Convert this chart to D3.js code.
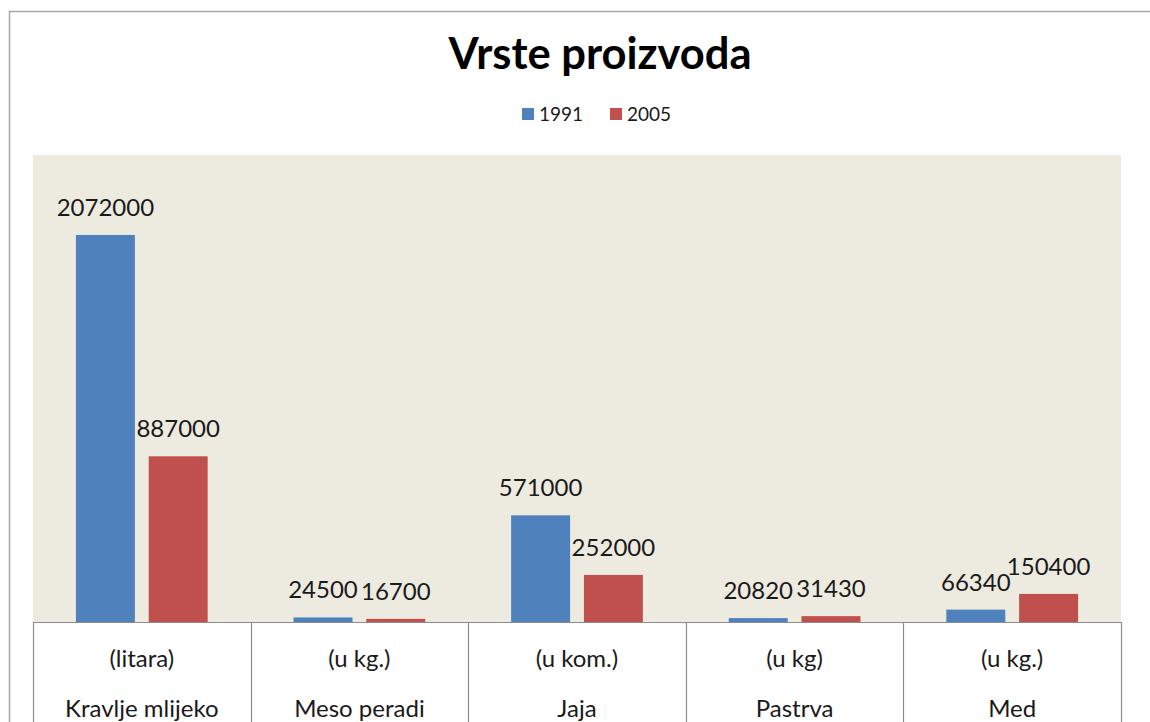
<!DOCTYPE html>
<html>
<head>
<meta charset="utf-8">
<script src="https://cdn.jsdelivr.net/npm/d3@7"></script>
<style>
  body { margin: 0; background: #fff; }
  svg { display: block; font-family: Lato, "Open Sans", sans-serif; }
</style>
</head>
<body>
<svg id="chart"></svg>
<script>
// data
var categories = ["Kravlje mlijeko", "Meso peradi", "Jaja", "Pastrva", "Med"];
var units = ["(litara)", "(u kg.)", "(u kom.)", "(u kg)", "(u kg.)"];
var seriesNames = ["1991", "2005"];
var values1991 = [2072000, 24500, 571000, 20820, 66340];
var values2005 = [887000, 16700, 252000, 31430, 150400];
var colors = ["#4F81BD", "#C0504D"];

var width = 1150, height = 722;
var plot = { left: 33, right: 1121, top: 155, bottom: 622 };

var svg = d3.select("#chart")
  .attr("width", width)
  .attr("height", height);

// outer chart frame (runs off the right/bottom edge)
svg.append("rect")
  .attr("x", 9.5).attr("y", 11.5)
  .attr("width", 1160).attr("height", 800)
  .attr("fill", "#fff")
  .attr("stroke", "#a6a6a6")
  .attr("stroke-width", 1.5);

// plot area background
svg.append("rect")
  .attr("x", plot.left).attr("y", plot.top)
  .attr("width", plot.right - plot.left)
  .attr("height", plot.bottom - plot.top)
  .attr("fill", "#EDEAE0");

var x0 = d3.scaleBand()
  .domain(categories)
  .range([plot.left, plot.right]);

var x1 = d3.scaleBand()
  .domain(seriesNames)
  .range([0, x0.bandwidth()])
  .paddingInner(0.19)
  .paddingOuter(0.59);

var y = d3.scaleLinear()
  .domain([0, 2500000])
  .range([plot.bottom, plot.top]);

var rows = categories.map(function(c, i) {
  return { cat: c, vals: [values1991[i], values2005[i]] };
});

var groups = svg.append("g").selectAll("g")
  .data(rows)
  .enter().append("g")
  .attr("transform", d => `translate(${x0(d.cat)},0)`);

groups.selectAll("rect")
  .data(d => d.vals.map((v, j) => ({ s: seriesNames[j], v: v, j: j })))
  .enter().append("rect")
  .attr("x", d => x1(d.s))
  .attr("y", d => y(d.v))
  .attr("width", x1.bandwidth())
  .attr("height", d => plot.bottom - y(d.v))
  .attr("fill", d => colors[d.j]);

groups.selectAll("text.lbl")
  .data(d => d.vals.map((v, j) => ({ s: seriesNames[j], v: v })))
  .enter().append("text")
  .attr("class", "lbl")
  .attr("x", d => x1(d.s) + x1.bandwidth() / 2)
  .attr("y", d => y(d.v) - 19)
  .attr("text-anchor", "middle")
  .attr("font-size", 24)
  .attr("fill", "#1a1a1a")
  .text(d => d.v);

// category axis drawn as a table
var axisG = svg.append("g");
axisG.append("line")
  .attr("x1", plot.left).attr("x2", plot.right)
  .attr("y1", plot.bottom + 0.5).attr("y2", plot.bottom + 0.5)
  .attr("stroke", "#8c8c8c").attr("stroke-width", 1.2);

var edges = categories.map(c => x0(c)).concat([plot.right]);
axisG.selectAll("line.cell")
  .data(edges)
  .enter().append("line")
  .attr("class", "cell")
  .attr("x1", d => Math.round(d) + 0.5).attr("x2", d => Math.round(d) + 0.5)
  .attr("y1", plot.bottom).attr("y2", height)
  .attr("stroke", "#8c8c8c").attr("stroke-width", 1.2);

axisG.selectAll("text.unit")
  .data(categories)
  .enter().append("text")
  .attr("class", "unit")
  .attr("x", d => x0(d) + x0.bandwidth() / 2)
  .attr("y", 667)
  .attr("text-anchor", "middle")
  .attr("font-size", 24)
  .attr("fill", "#1a1a1a")
  .text((d, i) => units[i]);

axisG.selectAll("text.cat")
  .data(categories)
  .enter().append("text")
  .attr("class", "cat")
  .attr("x", d => x0(d) + x0.bandwidth() / 2)
  .attr("y", 717)
  .attr("text-anchor", "middle")
  .attr("font-size", 24)
  .attr("fill", "#1a1a1a")
  .text(d => d);

// title
svg.append("text")
  .attr("x", 600).attr("y", 69)
  .attr("text-anchor", "middle")
  .attr("font-size", 43.5)
  .attr("font-weight", "bold")
  .attr("fill", "#000")
  .text("Vrste proizvoda");

// legend
var legendX = [522, 610];
var legend = svg.append("g").selectAll("g")
  .data(seriesNames)
  .enter().append("g")
  .attr("transform", (d, i) => `translate(${legendX[i]},108)`);
legend.append("rect")
  .attr("width", 12).attr("height", 12)
  .attr("fill", (d, i) => colors[i]);
legend.append("text")
  .attr("x", 17).attr("y", 12.5)
  .attr("font-size", 19)
  .attr("fill", "#1a1a1a")
  .text(d => d);
</script>
</body>
</html>
